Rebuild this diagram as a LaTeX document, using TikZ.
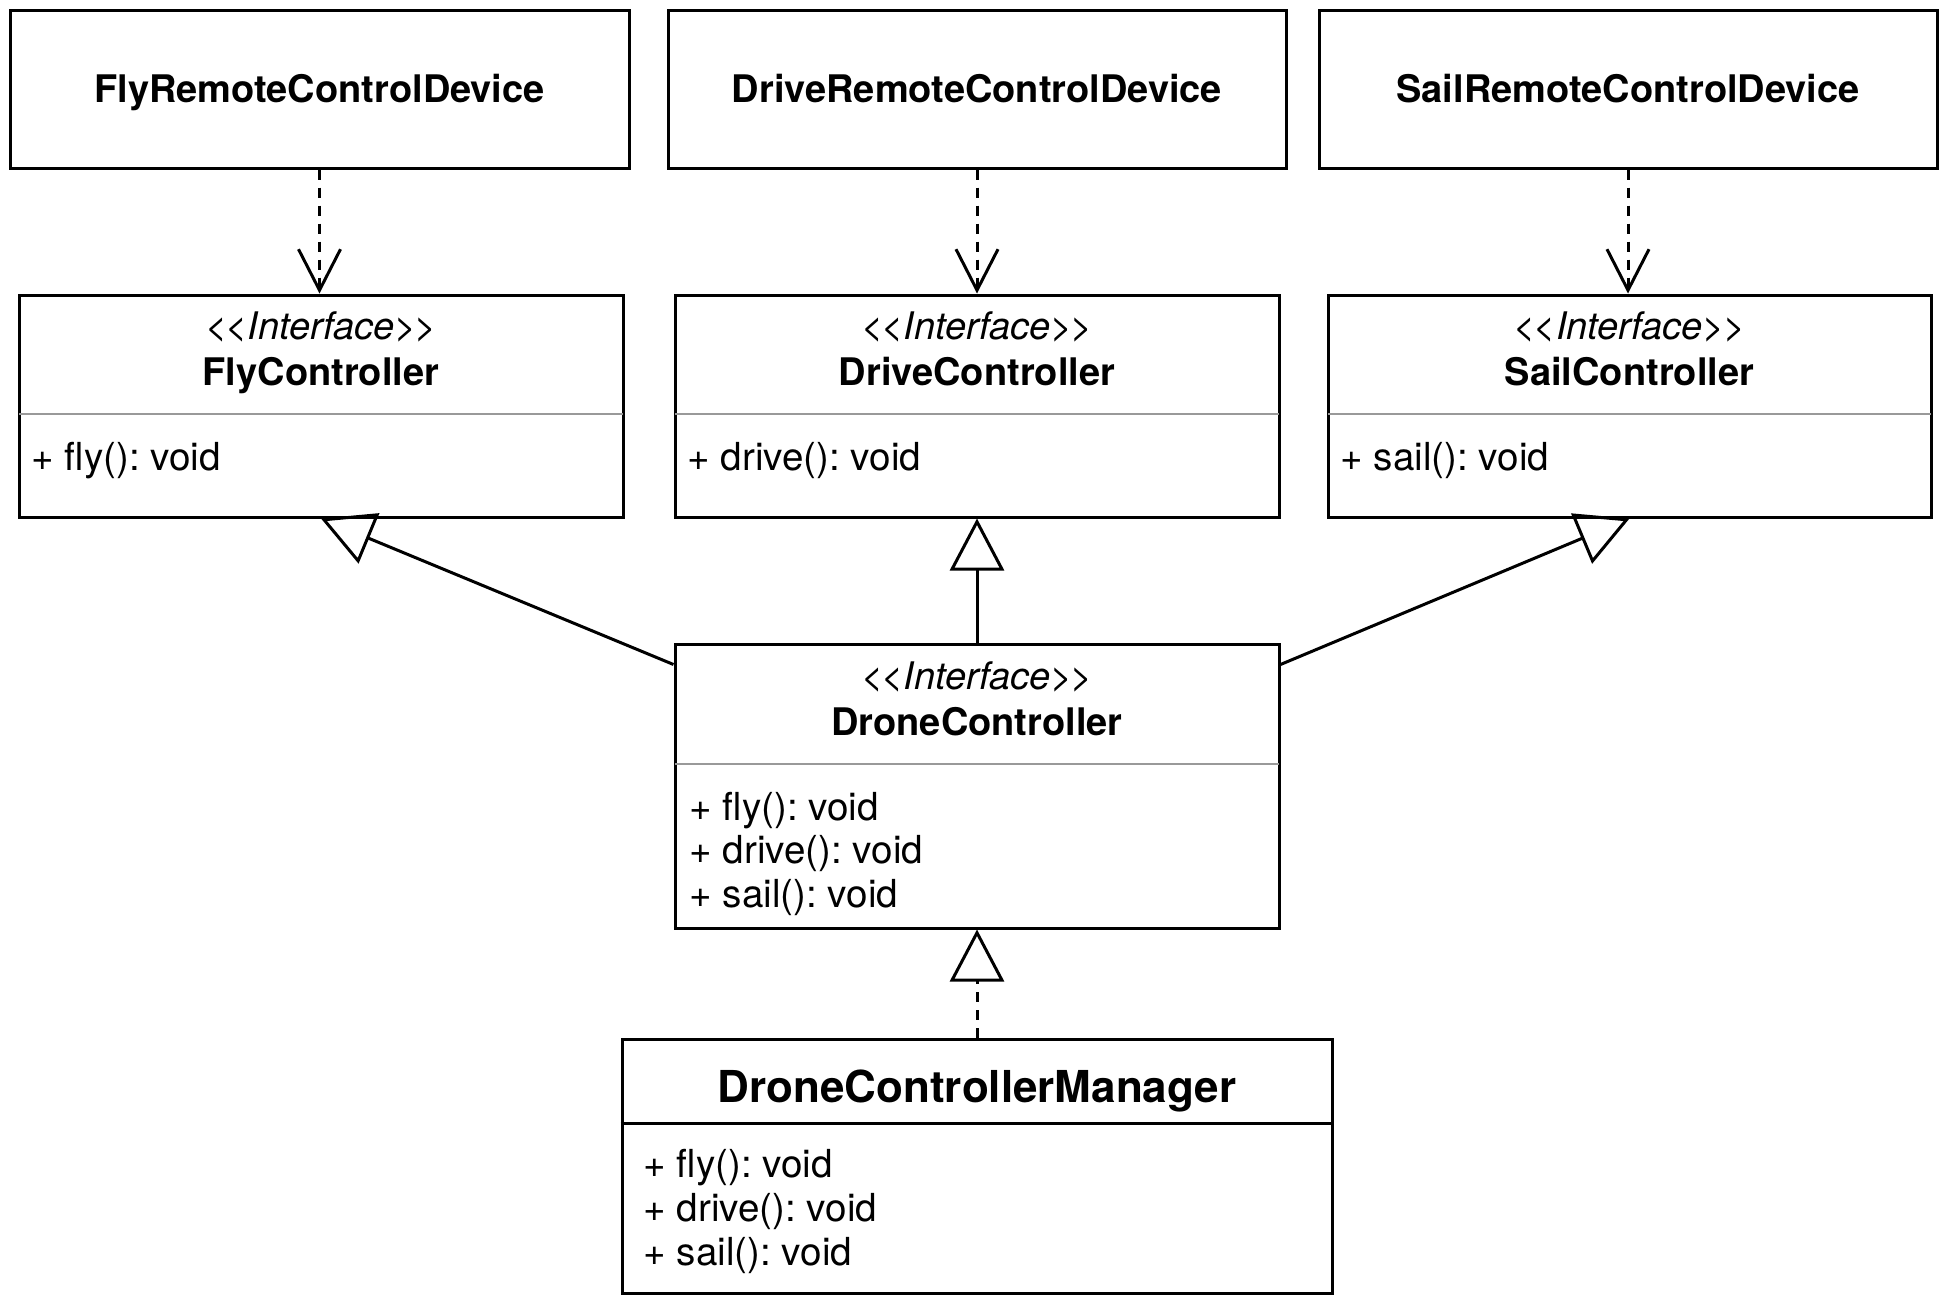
\documentclass[tikz,border=0pt]{standalone}
\usepackage{fontspec}
\setmainfont{TeX Gyre Heros}
\usetikzlibrary{arrows.meta,calc}
\frenchspacing

\begin{document}
\begin{tikzpicture}
	[x=0.5pt,y=-0.5pt,line width=1.5pt,
	box/.style={draw=black,fill=white,rectangle,inner sep=0pt},
	sep/.style={draw=black!40,line width=1.2pt,shorten <=0.8pt,shorten >=0.8pt},
	nm/.style={font=\fontsize{19}{19}\selectfont\bfseries,anchor=base,inner sep=0pt},
	st/.style={font=\fontsize{19}{19}\selectfont\itshape,anchor=base,inner sep=0pt},
	mt/.style={font=\fontsize{19.3}{19.3}\selectfont,anchor=base west,inner sep=0pt},
	dep/.style={dash pattern=on 5pt off 4pt,-{Straight Barb[length=20.5pt,width=21pt]}},
	gen/.style={-{Triangle[open,length=26pt,width=27pt]}},
	real/.style={gen,dash pattern=on 5pt off 4pt}]
	\useasboundingbox (0,0) rectangle (1950,1307);
	%DEVICES
	\foreach \n/\x/\w/\t in {fly/319.5/309.5/FlyRemoteControlDevice,drive/977/309/DriveRemoteControlDevice,sail/1628/309/SailRemoteControlDevice}
	{
		\node[box,minimum width=\w pt,minimum height=79pt] (dev\n) at (\x,89) {};
		\node[nm] (dev\n nm) at (\x,102) {\t};
	};
	%INTERFACES
	\foreach \n/\l/\x/\w/\t in {fly/19/321/302/FlyController,drive/675/977/302/DriveController,sail/1328/1629.5/301.5/SailController}
	{
		\node[box,minimum width=\w pt,minimum height=111pt] (\n) at (\x,406) {};
		\node[st] (\n st) at (\x,339) {<\kern-1pt<Interface>\kern-1pt>};
		\node[nm] (\n nm) at (\x,385) {\t};
		\draw[sep] (\n.west |- 0,414) -- (\n.east |- 0,414);
		\node[mt] (\n mt) at ({\l+11},470) {+ \n(): void};
	};
	%DRONE
	\node[box,minimum width=302pt,minimum height=142pt] (drone) at (977,786) {};
	\node[st] (dronest) at (977,689) {<\kern-1pt<Interface>\kern-1pt>};
	\node[nm] (dronenm) at (977,735) {DroneController};
	\draw[sep] (drone.west |- 0,764) -- (drone.east |- 0,764);
	\foreach \m [count=\i] in {fly,drive,sail}
	\node[mt] (dronemt\i) at (688,{820+43.5*(\i-1)}) {+ \m(): void};
	%MANAGER
	\node[box,minimum width=355pt,minimum height=127pt] (mgr) at (977,1166) {};
	\node[nm,font=\fontsize{22}{22}\selectfont\bfseries] (mgrnm) at (977,1102) {DroneControllerManager};
	\draw (mgr.west |- 0,1123) -- (mgr.east |- 0,1123);
	\foreach \m [count=\i] in {fly,drive,sail}
	\node[mt] (mgrmt\i) at (642,{1177+44*(\i-1)}) {+ \m(): void};
	%CONNECTORS
	\foreach \n in {fly,drive,sail}
	\draw[dep] (dev\n.south) -- (dev\n.south |- \n.north);
	\draw[gen] ($(drone.north west)+(0,22)$) -- (fly.south);
	\draw[gen] (drone.north) -- (drive.south);
	\draw[gen] ($(drone.north east)+(0,22)$) -- (sail.south);
	\draw[real] (mgr.north) -- (drone.south);
\end{tikzpicture}
\end{document}
